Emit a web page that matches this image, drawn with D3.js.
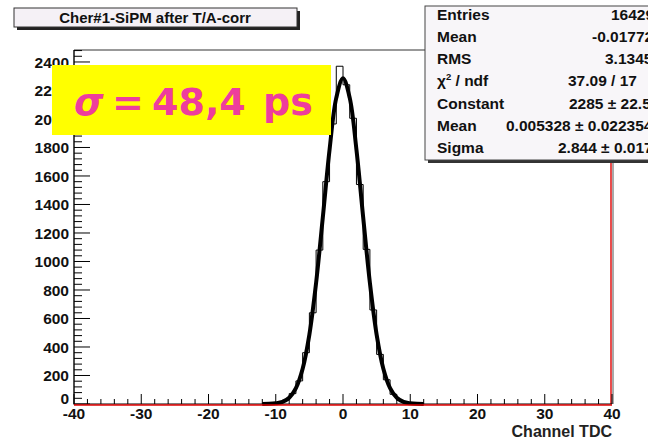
<!DOCTYPE html>
<html><head><meta charset="utf-8">
<script src="https://cdn.jsdelivr.net/npm/d3@7"></script>
<style>
html,body{margin:0;padding:0;background:#fff;}
svg{display:block;}
text{font-family:"Liberation Sans",Arial,Helvetica,sans-serif;font-weight:bold;}
</style></head><body>
<svg id="c" width="648" height="441"></svg>
<script>
// ---- data ----
const title = "Cher#1-SiPM after T/A-corr";
const xLabel = "Channel TDC";
const xTicks = [-40,-30,-20,-10,0,10,20,30,40];
const yTicks = [0,200,400,600,800,1000,1200,1400,1600,1800,2000,2200,2400];
// histogram: left bin edges (bin width 1) and counts
const binLow =   [-12,-11,-10,-9,-8,-7,-6,-5,-4,-3,-2,-1,0,1,2,3,4,5,6,7,8,9,10,11];
const binCount = [0,3,9,27,73,162,360,640,1080,1560,1965,2370,2240,2005,1540,1085,660,348,170,68,25,9,2,1];
// fitted gaussian as read at integer x
const fitX = [-12,-11,-10,-9,-8,-7,-6,-5,-4,-3,-2,-1,0,1,2,3,4,5,6,7,8,9,10,11,12];
const fitY = [0,1,5,15,44,111,247,487,850,1310,1784,2148,2285,2148,1784,1310,850,487,247,111,44,15,5,1,0];
// stats box
const statLabels = ["Entries","Mean","RMS","CHI","Constant","Mean","Sigma"];
const statValues = ["16429","-0.01772","3.1345","37.09 / 17","2285 \u00b1 22.5","0.005328 \u00b1 0.022354","2.844 \u00b1 0.0172"];
const sigmaText = ["\u03c3","=","48,4","ps"];

// ---- layout ----
const svg = d3.select("#c");
const x = d3.scaleLinear().domain([-40,40]).range([74,612]);
const y = d3.scaleLinear().domain([0,2484]).range([404,50]);

// frame lines
svg.append("line").attr("x1",74).attr("x2",425).attr("y1",50).attr("y2",50).attr("stroke","#333").attr("stroke-width",1);
svg.append("line").attr("x1",613).attr("x2",613).attr("y1",160).attr("y2",404).attr("stroke","#555").attr("stroke-width",1);
svg.append("line").attr("x1",611).attr("x2",611).attr("y1",163).attr("y2",404).attr("stroke","#e00000").attr("stroke-width",1.4);

// histogram outline
const hp = d3.path();
hp.moveTo(x(binLow[0]), y(0));
binLow.forEach((b,i)=>{ hp.lineTo(x(b), y(binCount[i])); hp.lineTo(x(b+1), y(binCount[i])); });
hp.lineTo(x(binLow[binLow.length-1]+1), y(0));
svg.append("path").attr("d",hp.toString()).attr("fill","none").attr("stroke","#000").attr("stroke-width",1);

// fit curve
const line = d3.line().x((d,i)=>x(fitX[i])).y(d=>y(d)).curve(d3.curveCatmullRom);
svg.append("path").attr("d",line(fitY)).attr("fill","none").attr("stroke","#000").attr("stroke-width",4).attr("stroke-linejoin","round");

// y axis
const gy = svg.append("g");
gy.append("line").attr("x1",74).attr("x2",74).attr("y1",50).attr("y2",404.5).attr("stroke","#000").attr("stroke-width",1.4);
const yMinor = d3.range(0,2484,40).filter(v=>v%200!==0);
gy.selectAll(".ymn").data(yMinor).join("line").attr("x1",74).attr("x2",82).attr("y1",d=>y(d)).attr("y2",d=>y(d)).attr("stroke","#000");
gy.selectAll(".ymj").data(yTicks).join("line").attr("x1",74).attr("x2",90).attr("y1",d=>y(d)).attr("y2",d=>y(d)).attr("stroke","#000");
gy.selectAll(".yl").data(yTicks).join("text").attr("x",69).attr("y",d=>y(d)+5.6-(d===0?6:0))
  .attr("text-anchor","end").attr("font-size",15.5).attr("fill","#111").text(d=>d);

// x axis
const gx = svg.append("g");
gx.append("line").attr("x1",74).attr("x2",612).attr("y1",404).attr("y2",404).attr("stroke","#000").attr("stroke-width",1.2);
gx.append("line").attr("x1",74).attr("x2",612).attr("y1",405).attr("y2",405).attr("stroke","#e00000").attr("stroke-width",1.6);
const xMinor = d3.range(-40,41,2).filter(v=>v%10!==0);
gx.selectAll(".xmn").data(xMinor).join("line").attr("x1",d=>x(d)).attr("x2",d=>x(d)).attr("y1",404).attr("y2",399).attr("stroke","#000");
gx.selectAll(".xmj").data(xTicks).join("line").attr("x1",d=>x(d)).attr("x2",d=>x(d)).attr("y1",404).attr("y2",394).attr("stroke","#000");
gx.selectAll(".xl").data(xTicks).join("text").attr("x",d=>x(d)).attr("y",418.5)
  .attr("text-anchor","middle").attr("font-size",15.5).attr("fill","#111").text(d=>d);
svg.append("text").attr("x",612).attr("y",437).attr("text-anchor","end").attr("font-size",16).attr("fill","#222").text(xLabel);

// title box
svg.append("rect").attr("x",17).attr("y",11).attr("width",283).attr("height",19).attr("fill","#222");
svg.append("rect").attr("x",14).attr("y",8).attr("width",283).attr("height",19).attr("fill","#f5f1f6").attr("stroke","#333").attr("stroke-width",1);
svg.append("text").attr("x",155).attr("y",22.5).attr("text-anchor","middle").attr("font-size",15).attr("fill","#111").text(title);

// stats box
svg.append("rect").attr("x",428).attr("y",9).attr("width",240).attr("height",154).attr("fill","#333");
svg.append("rect").attr("x",425).attr("y",6).attr("width",240).attr("height",154).attr("fill","#f8f6f9").attr("stroke","#444").attr("stroke-width",1);
const rowY = [19.5,41.5,63.5,85.5,108.5,130.5,153];
const valX = [611,592,605,568,569,506,558];
statLabels.forEach((l,i)=>{
  const t = svg.append("text").attr("x",437).attr("y",rowY[i]).attr("font-size",15.5).attr("fill","#111");
  if(l==="CHI"){
    t.append("tspan").text("\u03c7");
    t.append("tspan").attr("dy",-6).attr("font-size",9.5).text("2");
    t.append("tspan").attr("dy",6).text(" / ndf");
  } else t.text(l);
  svg.append("text").attr("x",valX[i]).attr("y",rowY[i]).attr("font-size",15.5).attr("fill","#111").text(statValues[i]);
});

// yellow sigma box
svg.append("rect").attr("x",52).attr("y",65).attr("width",279).attr("height",70).attr("fill","#ffff00");
const st = svg.append("text").attr("y",115).attr("font-size",38).attr("fill","#ee3d9c")
  .style("font-family","'DejaVu Sans',sans-serif").style("font-weight","bold");
const sx = [74,112,152,263];
sigmaText.forEach((s,i)=>{ const ts = st.append("tspan").attr("x",sx[i]).text(s); if(i===0) ts.style("font-style","italic"); });
</script>
</body></html>
